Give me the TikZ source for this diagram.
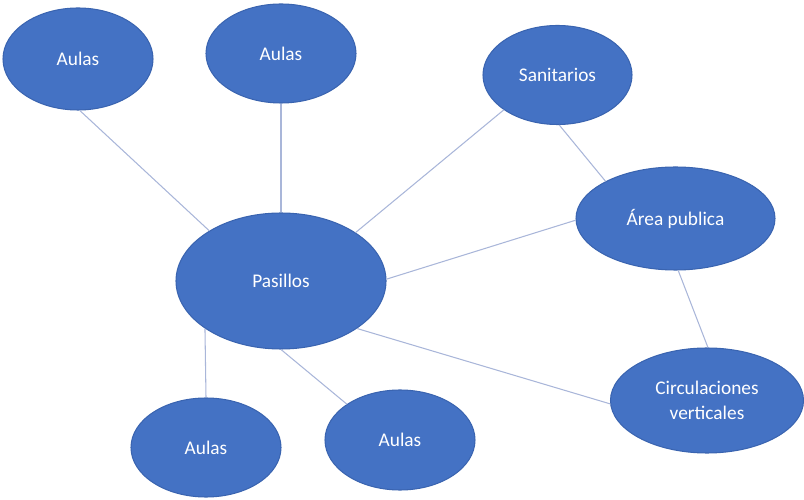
\documentclass[tikz,border=0pt]{standalone}
\usepackage{fontspec}
\setmainfont{Carlito}
\usetikzlibrary{shapes.geometric}

\definecolor{zonefill}{HTML}{4472C4}
\definecolor{zoneline}{HTML}{3A64B0}
\definecolor{linkline}{HTML}{A9B6D9}

\begin{document}
\begin{tikzpicture}
        \useasboundingbox (0, 0) rectangle (16.08, -10);
        \begin{scope}[every node/.style={ellipse, draw=zoneline, fill=zonefill, text=white, inner sep=0pt, line width=0.6pt, align=center, font=\fontsize{11}{14}\selectfont}]
            \node[minimum width=3cm, minimum height=2.04cm] (aulaA) at (1.56, -1.18) {Aulas};
            \node[minimum width=3cm, minimum height=1.98cm] (aulaB) at (5.62, -1.07) {Aulas};
            \node[minimum width=2.98cm, minimum height=1.98cm] (sanit) at (11.15, -1.5) {Sanitarios};
            \node[minimum width=3.98cm, minimum height=2.06cm] (area) at (13.51, -4.37) {Área publica};
            \node[minimum width=4.2cm, minimum height=2.72cm] (pasillos) at (5.62, -5.62) {Pasillos};
            \node[minimum width=3.86cm, minimum height=2.1cm] (circ) at (14.14, -8.01) {Circulaciones\\verticales};
            \node[minimum width=3cm, minimum height=1.98cm] (aulaC) at (4.12, -8.95) {Aulas};
            \node[minimum width=3cm, minimum height=2cm] (aulaD) at (8.0, -8.8) {Aulas};
        \end{scope}

        \begin{scope}[linkline, line width=0.6pt]
            \draw (aulaA.-88) -- (pasillos.145);
            \draw (aulaB.-90) -- (pasillos.90);
            \draw (sanit.-147) -- (pasillos.33);
            \draw (sanit.-88) -- (area.152);
            \draw (area.181) -- (pasillos.1);
            \draw (area.-87) -- (circ.89);
            \draw (pasillos.-32) -- (circ.182);
            \draw (pasillos.-148) -- (aulaC.90);
            \draw (pasillos.-90) -- (aulaD.146);
        \end{scope}
    \end{tikzpicture}
\end{document}
